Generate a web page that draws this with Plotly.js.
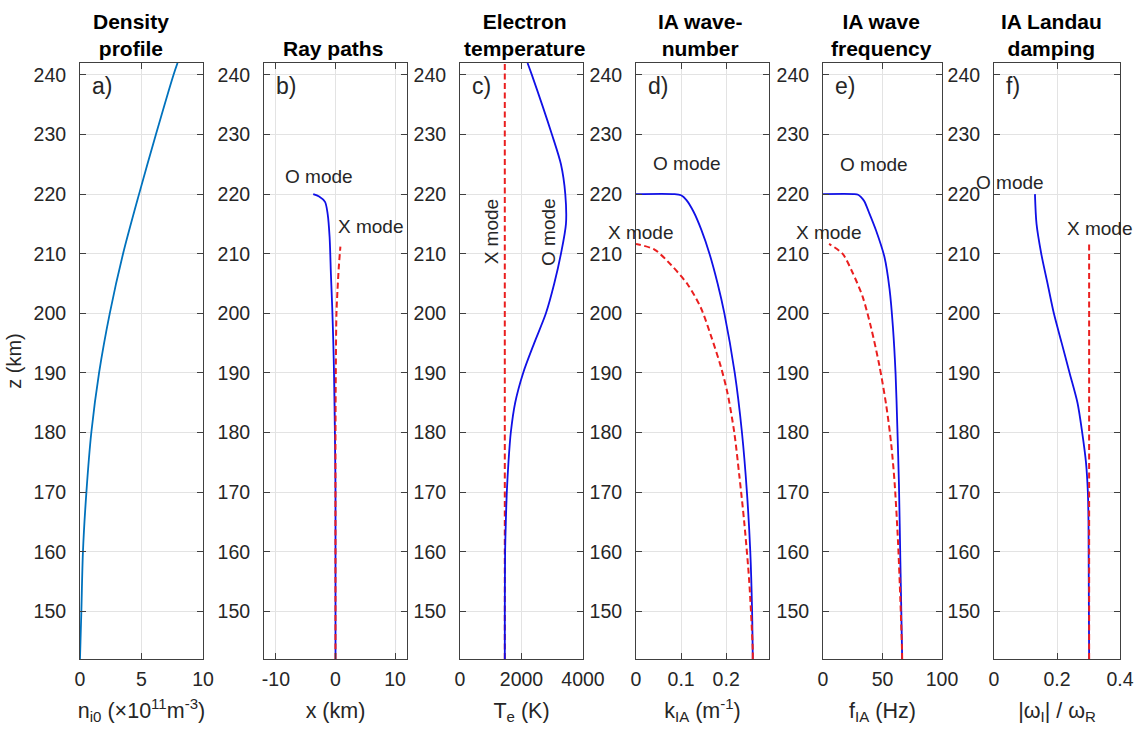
<!DOCTYPE html>
<html>
<head>
<meta charset="utf-8">
<script src="https://cdn.plot.ly/plotly-3.0.1.min.js"></script>
<style>html,body{margin:0;padding:0;background:#fff;}#chart{width:1137px;height:729px;}</style>
</head>
<body>
<div id="chart"></div>
<script>
// ---------- data ----------
// a) density profile
const Z_DENS = [142, 150, 160, 170, 180, 190, 200, 210, 220, 230, 240, 242];
const N_DENS = [0.0, 0.11, 0.24, 0.52, 0.92, 1.55, 2.42, 3.5, 4.8, 6.17, 7.6, 7.93];

// b) ray paths
const Z_RAY_O = [142, 170, 180, 190, 195.5, 201, 206.6, 212.8, 216.7, 218.7, 219.6, 220];
const X_RAY_O = [0, 0, -0.1, -0.25, -0.38, -0.55, -0.77, -0.99, -1.32, -1.76, -2.75, -3.74];
const Z_RAY_X = [142, 180, 190, 200, 203.8, 207.7, 211.2];
const X_RAY_X = [0, 0, 0.05, 0.16, 0.33, 0.55, 0.82];

// c) electron temperature
const Z_TE_O = [142, 150, 160, 165, 170, 175, 180, 185, 190, 195, 200, 205, 210, 215, 220, 225, 230, 240, 242];
const TE_O = [1457, 1457, 1467, 1490, 1522, 1576, 1652, 1794, 2054, 2413, 2794, 3065, 3283, 3446, 3424, 3283, 2990, 2337, 2196];
const Z_TE_X = [142, 242];
const TE_X = [1457, 1457];

// d) IA wavenumber
const Z_K_O = [142, 150, 160, 170, 180, 190, 200, 205, 210, 214, 217, 219, 219.8, 220, 220];
const K_O = [0.259, 0.2575, 0.2535, 0.246, 0.235, 0.219, 0.196, 0.181, 0.163, 0.145, 0.128, 0.112, 0.1, 0.085, 0];
const Z_K_X = [142, 143.5, 155.2, 165, 172.9, 180, 186.6, 191.1, 196.3, 200.9, 204.8, 208.1, 210.7, 211.65];
const K_X = [0.259, 0.259, 0.251, 0.240, 0.229, 0.218, 0.203, 0.188, 0.166, 0.144, 0.115, 0.078, 0.041, 0];

// e) IA wave frequency
const Z_F_O = [142, 143.5, 158.5, 171.5, 181.3, 189.8, 197.6, 204.1, 209.4, 213.9, 217, 218.8, 219.5, 219.9, 220, 220];
const F_O = [66.5, 66.4, 65.0, 63.8, 62.4, 61.0, 58.8, 55.9, 51.7, 44.6, 38.5, 34.7, 32.0, 29.5, 26.0, 0];
const Z_F_X = [142, 143.5, 152, 161.8, 171.5, 178.1, 184.6, 191.1, 197.6, 202.8, 206.8, 210, 211.65];
const F_X = [66.5, 66.4, 65.0, 63.0, 60.2, 57.3, 53.1, 47.5, 40.4, 33.3, 24.9, 16.4, 5.1];

// f) IA Landau damping
const Z_D_O = [142, 165, 170, 175, 180, 185, 190, 195, 200, 205, 210, 215, 220];
const D_O = [0.302, 0.300, 0.298, 0.292, 0.280, 0.265, 0.240, 0.215, 0.190, 0.170, 0.150, 0.135, 0.130];
const Z_D_X = [142, 211.6];
const D_X = [0.302, 0.302];

// titles / labels
const PANEL_TITLES = ["<b>Density</b><br><b>profile</b>", "<b>Ray paths</b>", "<b>Electron</b><br><b>temperature</b>",
                      "<b>IA wave-</b><br><b>number</b>", "<b>IA wave</b><br><b>frequency</b>", "<b>IA Landau</b><br><b>damping</b>"];
const PANEL_TAGS = ["a)", "b)", "c)", "d)", "e)", "f)"];
const X_TITLES = ["n<sub>i0</sub> (×10<sup>11</sup>m<sup>-3</sup>)", "x (km)", "T<sub>e</sub> (K)",
                  "k<sub>IA</sub> (m<sup>-1</sup>)", "f<sub>IA</sub> (Hz)", "|ω<sub>I</sub>| / ω<sub>R</sub>"];
const X_RANGES = [[0, 10], [-12, 12], [0, 4000], [0, 0.295], [0, 100], [0, 0.4]];
const X_TICKS = [[0, 5, 10], [-10, 0, 10], [0, 2000, 4000], [0, 0.1, 0.2], [0, 50, 100], [0, 0.2, 0.4]];
const X_TICKTEXT = [["0", "5", "10"], ["-10", "0", "10"], ["0", "2000", "4000"], ["0", "0.1", "0.2"], ["0", "50", "100"], ["0", "0.2", "0.4"]];
const Y_RANGE = [142, 242];
const Y_TICKS = [150, 160, 170, 180, 190, 200, 210, 220, 230, 240];

// ---------- layout geometry (pixels) ----------
const W = 1137, H = 729;
const PX_LEFT = [80, 264, 460, 636, 823, 994];
const PX_RIGHT = [203, 407, 583, 769, 942, 1120];
const PX_TOP = 63, PX_BOT = 659;
const TITLE_CX = [131, 333, 524, 700, 882, 1051];

const BLUE = '#1010e6', RED = '#ea1f1f', DENS = '#0072BD';
const FONT = 'Liberation Sans, Arial, Helvetica, sans-serif';
const TXT = '#262626';

const traces = [];
function ax(i) { return i === 0 ? '' : String(i + 1); }
function line(i, x, y, color, dash, width) {
  traces.push({x: x, y: y, type: 'scatter', mode: 'lines', xaxis: 'x' + ax(i), yaxis: 'y' + ax(i),
    line: {color: color, width: width, dash: dash, shape: 'spline', smoothing: 0.8}, showlegend: false, hoverinfo: 'skip'});
}
const DASH = '6px,3.5px';
line(0, N_DENS, Z_DENS, DENS, 'solid', 1.8);
line(1, X_RAY_O, Z_RAY_O, BLUE, 'solid', 1.8);
line(1, X_RAY_X, Z_RAY_X, RED, DASH, 2);
line(2, TE_X, Z_TE_X, RED, DASH, 2);
line(2, TE_O, Z_TE_O, BLUE, 'solid', 1.8);
line(3, K_O, Z_K_O, BLUE, 'solid', 1.8);
line(3, K_X, Z_K_X, RED, DASH, 2);
line(4, F_O, Z_F_O, BLUE, 'solid', 1.8);
line(4, F_X, Z_F_X, RED, DASH, 2);
line(5, D_O, Z_D_O, BLUE, 'solid', 1.8);
line(5, D_X, Z_D_X, RED, DASH, 2);

const layout = {
  width: W, height: H, margin: {l: 0, r: 0, t: 0, b: 0},
  paper_bgcolor: '#fff', plot_bgcolor: '#fff',
  font: {family: FONT, size: 19, color: TXT},
  showlegend: false, annotations: []
};
for (let i = 0; i < 6; i++) {
  const xa = {
    domain: [PX_LEFT[i] / W, PX_RIGHT[i] / W], anchor: 'y' + ax(i), range: X_RANGES[i],
    tickmode: 'array', tickvals: X_TICKS[i], ticktext: X_TICKTEXT[i],
    ticks: 'inside', ticklen: 6, tickcolor: '#404040', tickwidth: 1,
    showline: true, linecolor: '#404040', linewidth: 1, mirror: 'ticks',
    showgrid: true, gridcolor: '#e3e3e3', gridwidth: 1, zeroline: false,
    tickfont: {family: FONT, size: 19.5, color: TXT}, ticklabelstandoff: 3,
    title: {text: X_TITLES[i], font: {family: FONT, size: 21.5, color: TXT}, standoff: 13},
    automargin: false, fixedrange: true
  };
  const ya = {
    domain: [1 - PX_BOT / H, 1 - PX_TOP / H], anchor: 'x' + ax(i), range: Y_RANGE,
    tickmode: 'array', tickvals: Y_TICKS,
    ticks: 'inside', ticklen: 6, tickcolor: '#404040', tickwidth: 1,
    showline: true, linecolor: '#404040', linewidth: 1, mirror: 'ticks',
    showgrid: true, gridcolor: '#e3e3e3', gridwidth: 1, zeroline: false,
    tickfont: {family: FONT, size: 19.5, color: TXT}, ticklabelstandoff: 9,
    automargin: false, fixedrange: true
  };
  if (i === 0) ya.title = {text: 'z (km)', font: {family: FONT, size: 20, color: TXT}, standoff: 6};
  layout['xaxis' + ax(i)] = xa;
  layout['yaxis' + ax(i)] = ya;

  layout.annotations.push({
    text: PANEL_TITLES[i], xref: 'paper', yref: 'paper', x: TITLE_CX[i] / W, y: 1 - 62 / H,
    xanchor: 'center', yanchor: 'bottom', showarrow: false, align: 'center',
    font: {family: FONT, size: 21, color: '#000'}
  });
  layout.annotations.push({
    text: PANEL_TAGS[i], xref: 'x' + ax(i) + ' domain', yref: 'y' + ax(i) + ' domain', x: 0, y: 1,
    xshift: 10, yshift: -8, xanchor: 'left', yanchor: 'top', showarrow: false,
    font: {family: FONT, size: 23, color: TXT}
  });
}
// mode labels
function lab(i, x, y, t, angle) {
  layout.annotations.push({text: t, xref: 'x' + ax(i), yref: 'y' + ax(i), x: x, y: y, showarrow: false,
    xanchor: 'center', yanchor: 'middle', textangle: angle || 0, font: {family: FONT, size: 19, color: TXT}});
}
lab(1, -2.8, 223.0, 'O mode');
lab(1, 5.8, 214.5, 'X mode');
lab(2, 1030, 213.7, 'X mode', -90);
lab(2, 2872, 213.7, 'O mode', -90);
lab(3, 0.1127, 225.2, 'O mode');
lab(3, 0.009, 213.6, 'X mode');
lab(4, 42.6, 224.9, 'O mode');
lab(4, 4.2, 213.6, 'X mode');
lab(5, 0.05, 221.9, 'O mode');
lab(5, 0.336, 214.3, 'X mode');

Plotly.newPlot('chart', traces, layout, {staticPlot: true, displayModeBar: false});
</script>
</body>
</html>
